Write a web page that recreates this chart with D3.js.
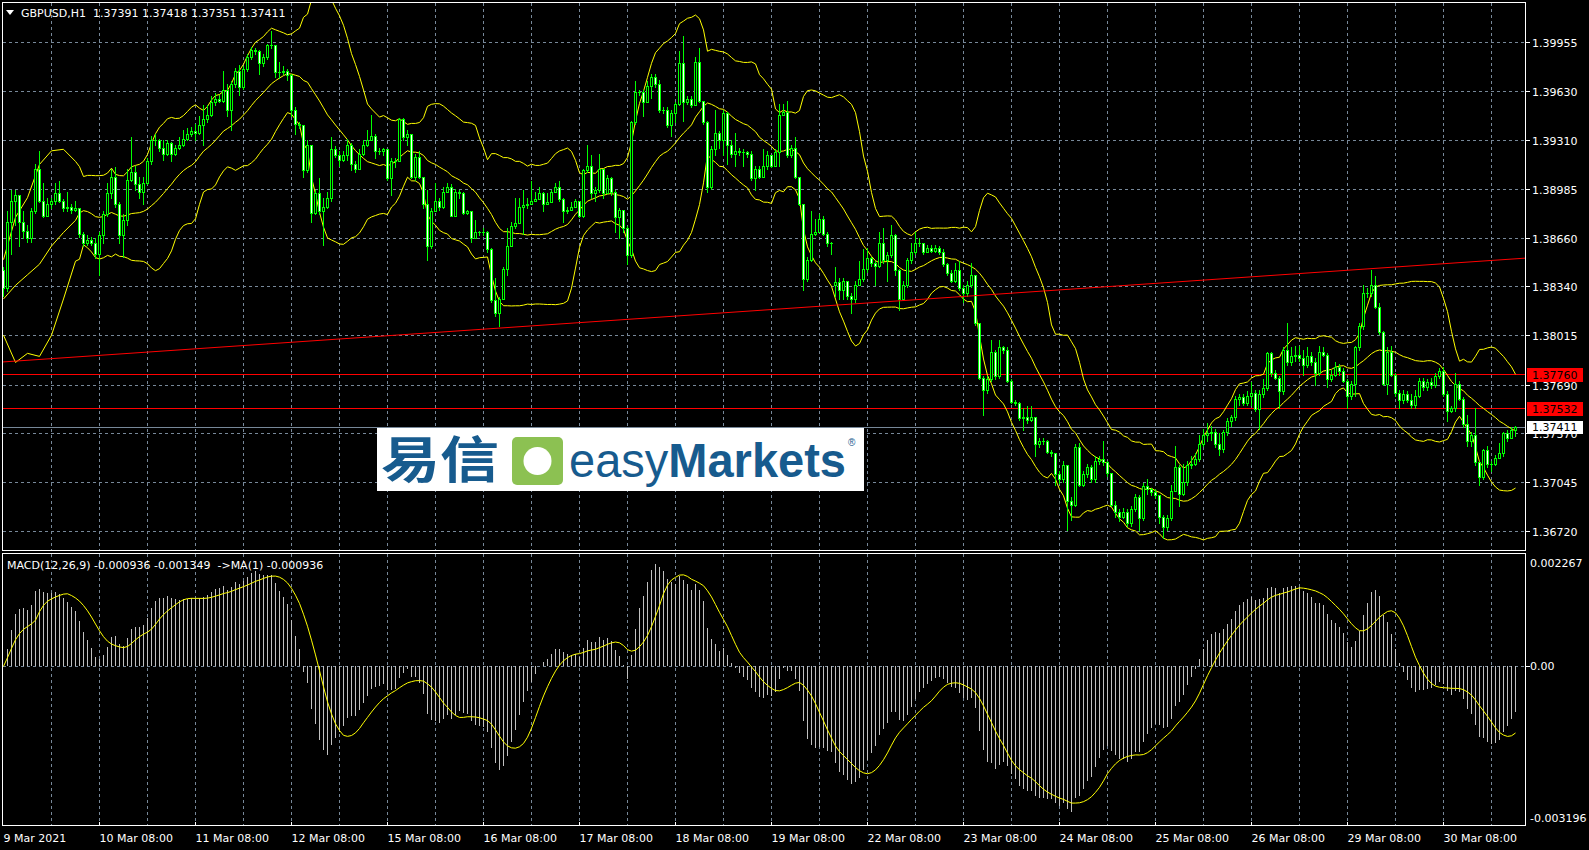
<!DOCTYPE html>
<html><head><meta charset="utf-8">
<script src="https://cdn.jsdelivr.net/npm/d3@7"></script>
<style>
html,body{margin:0;padding:0;background:#000;overflow:hidden;}
svg{display:block;}
text{font-family:"DejaVu Sans",sans-serif;font-size:11px;fill:#fff;white-space:pre;}
</style></head><body>
<svg id="chart" width="1589" height="850"></svg>
<script>
// ---------------- DATA ----------------
const symbolTitle = "GBPUSD,H1  1.37391 1.37418 1.37351 1.37411";
const macdTitle = "MACD(12,26,9) -0.000936 -0.001349  ->MA(1) -0.000936";
const firstOpen = 1.3845;
const gapOpens = {208: 1.3835};
const closes = [
1.3833,1.3877,1.3891,1.3895,1.3877,1.3871,1.3866,1.3884,1.3912,1.3891,
1.3881,1.3889,1.3891,1.3896,1.3891,1.3886,1.3887,1.3885,1.3886,1.3869,
1.3863,1.3865,1.3863,1.3856,1.3868,1.3882,1.3896,1.3907,1.3889,1.3868,
1.3878,1.3905,1.3910,1.3902,1.3897,1.3903,1.3917,1.3931,1.3931,1.3926,
1.3922,1.3929,1.3922,1.3926,1.3928,1.3932,1.3935,1.3937,1.3936,1.3941,
1.3945,1.3948,1.3956,1.3958,1.3957,1.3964,1.3951,1.3968,1.3977,1.3966,
1.3978,1.3986,1.3991,1.3990,1.3982,1.3986,1.3994,1.3994,1.3976,1.3976,
1.3977,1.3974,1.3951,1.3942,1.3941,1.3911,1.3928,1.3883,1.3896,1.3884,
1.3887,1.3893,1.3925,1.3921,1.3918,1.3921,1.3928,1.3915,1.3912,1.3922,
1.3928,1.3931,1.3934,1.3924,1.3924,1.3925,1.3906,1.3917,1.3917,1.3945,
1.3933,1.3935,1.3907,1.3920,1.3907,1.3889,1.3861,1.3884,1.3891,1.3887,
1.3897,1.3900,1.3881,1.3897,1.3896,1.3883,1.3884,1.3866,1.3870,1.3870,
1.3870,1.3859,1.3825,1.3817,1.3826,1.3846,1.3861,1.3874,1.3876,1.3887,
1.3888,1.3889,1.3891,1.3892,1.3896,1.3889,1.3890,1.3897,1.3900,1.3892,
1.3884,1.3885,1.3887,1.3891,1.3881,1.3911,1.3914,1.3896,1.3898,1.3912,
1.3896,1.3906,1.3897,1.3880,1.3885,1.3873,1.3855,1.3943,1.3963,1.3963,
1.3956,1.3967,1.3973,1.3968,1.3951,1.3951,1.3941,1.3949,1.3955,1.3982,
1.3956,1.3958,1.3954,1.3983,1.3957,1.3943,1.3900,1.3925,1.3936,1.3931,
1.3949,1.3928,1.3922,1.3924,1.3923,1.3923,1.3922,1.3906,1.3912,1.3907,
1.3914,1.3921,1.3914,1.3923,1.3948,1.3950,1.3921,1.3926,1.3907,1.3889,
1.3839,1.3852,1.3869,1.3870,1.3879,1.3869,1.3863,1.3863,1.3837,1.3832,
1.3838,1.3828,1.3826,1.3835,1.3839,1.3846,1.3853,1.3850,1.3848,1.3863,
1.3852,1.3855,1.3868,1.3845,1.3826,1.3835,1.3852,1.3857,1.3863,1.3863,
1.3857,1.3860,1.3858,1.3860,1.3857,1.3849,1.3843,1.3838,1.3845,1.3833,
1.3830,1.3835,1.3842,1.3810,1.3774,1.3766,1.3773,1.3791,1.3775,1.3794,
1.3792,1.3772,1.3758,1.3757,1.3747,1.3748,1.3746,1.3748,1.3730,1.3732,
1.3732,1.3725,1.3724,1.3710,1.3707,1.3716,1.3692,1.3690,1.3728,1.3703,
1.3710,1.3715,1.3707,1.3719,1.3720,1.3718,1.3711,1.3690,1.3685,1.3682,
1.3685,1.3678,1.3687,1.3695,1.3681,1.3702,1.3700,1.3698,1.3696,1.3682,
1.3675,1.3681,1.3699,1.3715,1.3697,1.3705,1.3716,1.3717,1.3720,1.3730,
1.3736,1.3737,1.3738,1.3730,1.3727,1.3738,1.3745,1.3748,1.3760,1.3761,
1.3757,1.3762,1.3764,1.3753,1.3763,1.3767,1.3790,1.3777,1.3774,1.3765,
1.3792,1.3784,1.3788,1.3789,1.3787,1.3782,1.3788,1.3784,1.3777,1.3791,
1.3789,1.3773,1.3776,1.3781,1.3778,1.3772,1.3762,1.3770,1.3794,1.3808,
1.3830,1.3830,1.3835,1.3821,1.3804,1.3770,1.3791,1.3776,1.3764,1.3759,
1.3763,1.3759,1.3756,1.3762,1.3772,1.3768,1.3771,1.3769,1.3775,1.3778,
1.3763,1.3752,1.3754,1.3770,1.3760,1.3743,1.3732,1.3736,1.3718,1.3708,
1.3726,1.3717,1.3717,1.3721,1.3724,1.3737,1.3734,1.37391,1.37411];
const highs = [
1.3847,1.3884,1.3898,1.3898,1.3895,1.3884,1.3875,1.3886,1.3915,1.3924,
1.3903,1.3893,1.3893,1.3903,1.3904,1.3892,1.3897,1.3889,1.3891,1.3886,
1.3870,1.3868,1.3867,1.3866,1.3870,1.3884,1.3903,1.3912,1.3913,1.3890,
1.3882,1.3912,1.3933,1.3914,1.3907,1.3907,1.3919,1.3934,1.3935,1.3932,
1.3931,1.3931,1.3930,1.3928,1.3933,1.3938,1.3939,1.3940,1.3942,1.3947,
1.3954,1.3954,1.3960,1.3962,1.3961,1.3977,1.3968,1.3970,1.3979,1.3981,
1.3980,1.3988,1.3993,1.3992,1.3991,1.3988,1.3995,1.4003,1.3994,1.3983,
1.3980,1.3978,1.3975,1.3953,1.3943,1.3941,1.3931,1.3928,1.3898,1.3906,
1.3893,1.3897,1.3933,1.3927,1.3924,1.3924,1.3932,1.3929,1.3917,1.3925,
1.3931,1.3938,1.3948,1.3935,1.3926,1.3926,1.3924,1.3919,1.3919,1.3946,
1.3946,1.3938,1.3934,1.3922,1.3924,1.3907,1.3898,1.3886,1.3903,1.3893,
1.3900,1.3903,1.3902,1.3899,1.3898,1.3897,1.3885,1.3884,1.3878,1.3871,
1.3873,1.3871,1.3860,1.3840,1.3827,1.3847,1.3873,1.3877,1.3893,1.3893,
1.3898,1.3893,1.3904,1.3897,1.3900,1.3897,1.3896,1.3898,1.3903,1.3904,
1.3893,1.3887,1.3890,1.3892,1.3891,1.3912,1.3928,1.3921,1.3900,1.3922,
1.3912,1.3908,1.3907,1.3898,1.3886,1.3885,1.3874,1.3944,1.3970,1.3964,
1.3964,1.3970,1.3975,1.3975,1.3971,1.3953,1.3953,1.3951,1.3956,1.3990,
1.4000,1.3960,1.3960,1.3986,1.3992,1.3957,1.3944,1.3927,1.3951,1.3937,
1.3951,1.3950,1.3931,1.3936,1.3926,1.3925,1.3924,1.3924,1.3914,1.3914,
1.3925,1.3924,1.3921,1.3925,1.3955,1.3955,1.3957,1.3928,1.3933,1.3907,
1.3889,1.3854,1.3884,1.3879,1.3882,1.3881,1.3870,1.3864,1.3847,1.3840,
1.3840,1.3838,1.3830,1.3838,1.3851,1.3859,1.3860,1.3854,1.3851,1.3870,
1.3873,1.3857,1.3875,1.3869,1.3846,1.3838,1.3853,1.3863,1.3870,1.3866,
1.3863,1.3862,1.3862,1.3862,1.3861,1.3859,1.3850,1.3845,1.3850,1.3851,
1.3835,1.3838,1.3850,1.3842,1.3810,1.3775,1.3775,1.3799,1.3792,1.3799,
1.3795,1.3794,1.3773,1.3759,1.3758,1.3754,1.3755,1.3755,1.3748,1.3734,
1.3734,1.3733,1.3726,1.3724,1.3712,1.3719,1.3716,1.3695,1.3730,1.3731,
1.3712,1.3717,1.3716,1.3722,1.3722,1.3732,1.3719,1.3711,1.3692,1.3687,
1.3688,1.3687,1.3689,1.3697,1.3696,1.3704,1.3707,1.3701,1.3700,1.3696,
1.3683,1.3683,1.3703,1.3729,1.3716,1.3717,1.3719,1.3722,1.3724,1.3736,
1.3740,1.3744,1.3742,1.3740,1.3737,1.3739,1.3747,1.3749,1.3762,1.3763,
1.3763,1.3765,1.3771,1.3766,1.3766,1.3773,1.3791,1.3791,1.3779,1.3775,
1.3794,1.3810,1.3794,1.3795,1.3795,1.3792,1.3794,1.3791,1.3787,1.3795,
1.3794,1.3790,1.3779,1.3784,1.3783,1.3780,1.3773,1.3772,1.3795,1.3810,
1.3835,1.3833,1.3845,1.3841,1.3823,1.3805,1.3794,1.3795,1.3777,1.3766,
1.3766,1.3765,1.3763,1.3766,1.3774,1.3774,1.3773,1.3774,1.3777,1.3780,
1.3781,1.3765,1.3755,1.3777,1.3772,1.3761,1.3749,1.3738,1.3754,1.3718,
1.3727,1.3729,1.3719,1.3723,1.3731,1.3738,1.3739,1.3741,1.37418];
const lows = [
1.3828,1.3831,1.3856,1.3875,1.3861,1.3866,1.3864,1.3864,1.3883,1.3890,
1.3880,1.3881,1.3886,1.3889,1.3890,1.3884,1.3884,1.3883,1.3884,1.3867,
1.3861,1.3862,1.3862,1.3853,1.3842,1.3863,1.3881,1.3893,1.3887,1.3863,
1.3854,1.3875,1.3904,1.3898,1.3893,1.3889,1.3902,1.3915,1.3928,1.3924,
1.3918,1.3921,1.3917,1.3921,1.3925,1.3927,1.3931,1.3934,1.3931,1.3935,
1.3928,1.3943,1.3947,1.3954,1.3956,1.3956,1.3947,1.3938,1.3966,1.3961,
1.3965,1.3977,1.3985,1.3988,1.3975,1.3980,1.3985,1.3992,1.3973,1.3972,
1.3975,1.3971,1.3947,1.3935,1.3939,1.3907,1.3910,1.3877,1.3882,1.3882,
1.3862,1.3886,1.3891,1.3920,1.3914,1.3917,1.3918,1.3911,1.3910,1.3912,
1.3921,1.3927,1.3931,1.3919,1.3922,1.3921,1.3905,1.3895,1.3913,1.3917,
1.3931,1.3928,1.3906,1.3905,1.3906,1.3886,1.3852,1.3860,1.3884,1.3885,
1.3886,1.3897,1.3881,1.3893,1.3893,1.3882,1.3882,1.3864,1.3866,1.3868,
1.3868,1.3857,1.3824,1.3815,1.3808,1.3826,1.3842,1.3861,1.3873,1.3876,
1.3869,1.3886,1.3889,1.3891,1.3893,1.3884,1.3889,1.3890,1.3897,1.3891,
1.3877,1.3883,1.3886,1.3889,1.3880,1.3880,1.3910,1.3893,1.3891,1.3897,
1.3893,1.3896,1.3895,1.3870,1.3866,1.3870,1.3849,1.3854,1.3942,1.3961,
1.3947,1.3956,1.3959,1.3966,1.3950,1.3949,1.3940,1.3934,1.3943,1.3954,
1.3944,1.3955,1.3953,1.3954,1.3956,1.3942,1.3897,1.3899,1.3921,1.3926,
1.3921,1.3915,1.3920,1.3914,1.3921,1.3914,1.3920,1.3905,1.3898,1.3906,
1.3907,1.3912,1.3913,1.3914,1.3914,1.3949,1.3920,1.3920,1.3906,1.3888,
1.3832,1.3838,1.3851,1.3868,1.3870,1.3868,1.3861,1.3856,1.3828,1.3826,
1.3826,1.3826,1.3817,1.3824,1.3835,1.3838,1.3844,1.3848,1.3835,1.3847,
1.3850,1.3838,1.3854,1.3842,1.3819,1.3825,1.3834,1.3850,1.3856,1.3861,
1.3856,1.3857,1.3857,1.3857,1.3856,1.3848,1.3842,1.3837,1.3837,1.3832,
1.3824,1.3828,1.3834,1.3809,1.3773,1.3749,1.3764,1.3772,1.3773,1.3774,
1.3790,1.3771,1.3757,1.3756,1.3746,1.3739,1.3744,1.3745,1.3722,1.3728,
1.3730,1.3724,1.3722,1.3703,1.3704,1.3705,1.3673,1.3680,1.3689,1.3702,
1.3702,1.3708,1.3705,1.3705,1.3717,1.3716,1.3709,1.3689,1.3682,1.3679,
1.3681,1.3676,1.3676,1.3686,1.3673,1.3680,1.3697,1.3696,1.3694,1.3678,
1.3668,1.3673,1.3680,1.3699,1.3689,1.3696,1.3703,1.3714,1.3716,1.3719,
1.3729,1.3732,1.3733,1.3728,1.3723,1.3725,1.3736,1.3742,1.3746,1.3756,
1.3756,1.3756,1.3756,1.3752,1.3740,1.3761,1.3766,1.3775,1.3773,1.3754,
1.3763,1.3782,1.3782,1.3785,1.3785,1.3776,1.3781,1.3782,1.3769,1.3776,
1.3788,1.3768,1.3772,1.3775,1.3776,1.3771,1.3754,1.3760,1.3762,1.3792,
1.3806,1.3827,1.3828,1.3820,1.3803,1.3769,1.3763,1.3775,1.3762,1.3754,
1.3757,1.3758,1.3754,1.3754,1.3761,1.3766,1.3766,1.3767,1.3768,1.3774,
1.3762,1.3745,1.3751,1.3752,1.3759,1.3741,1.3729,1.3729,1.3716,1.3703,
1.3707,1.3715,1.3712,1.3716,1.3722,1.3722,1.3732,1.3736,1.37351];
// Bollinger values read at the left edge (before a full 20-bar window exists)
const bbLeadBars  = [0, 3, 6, 9, 12, 15, 18];
const bbUpperLead = [1.3852,1.3880,1.3893,1.3915,1.3924,1.3925,1.3917];
const bbMidLead   = [1.3826,1.3835,1.3842,1.3849,1.3861,1.3870,1.3878];
const bbLowerLead = [1.3802,1.3784,1.3790,1.3788,1.3802,1.3826,1.3851];
const priceTicks = ["1.39955","1.39630","1.39310","1.38985","1.38660","1.38340","1.38015","1.37690","1.37370","1.37045","1.36720"];
const timeLabels = ["9 Mar 2021","10 Mar 08:00","11 Mar 08:00","12 Mar 08:00","15 Mar 08:00","16 Mar 08:00","17 Mar 08:00","18 Mar 08:00","19 Mar 08:00","22 Mar 08:00","23 Mar 08:00","24 Mar 08:00","25 Mar 08:00","26 Mar 08:00","29 Mar 08:00","30 Mar 08:00"];
const timeLabelBars = [0,24,48,72,96,120,144,168,192,216,240,264,288,312,336,360];
const hLines = [1.37760, 1.37532];
const currentPrice = 1.37411;
const trendBars = [-0.25, 380.5];
const trendPrices = [1.37843, 1.38530];
const macdTicks = ["0.002267","0.00","-0.003196"];
const macdTickValues = [0.002267, 0, -0.003196];

// ---------------- LAYOUT ----------------
const W = 1589, H = 850;
const X0 = 2.5, X1 = 1525.5, MT = 2.5, MB = 550.5, ST = 553.5, SB = 825.5;
const svg = d3.select("#chart");
svg.append("rect").attr("width", W).attr("height", H).attr("fill", "#000");

const x = d3.scaleLinear().domain([0, 378]).range([3.5, 1515.5]);
const y = d3.scaleLinear().domain([1.36599, 1.40218]).range([550, 3]);
const ym = d3.scaleLinear().domain([-0.003196, 0.002267]).range([SB, ST]);
const px = v => Math.round(v - 0.5) + 0.5;

// clip paths
const defs = svg.append("defs");
defs.append("clipPath").attr("id","cMain").append("rect").attr("x",X0).attr("y",MT).attr("width",X1-X0).attr("height",MB-MT);
defs.append("clipPath").attr("id","cSub").append("rect").attr("x",X0).attr("y",ST).attr("width",X1-X0).attr("height",SB-ST);

// ---------------- GRID ----------------
const grid = svg.append("g").attr("stroke","#778899").attr("stroke-width",1)
  .attr("stroke-dasharray","3,3").attr("shape-rendering","crispEdges");
d3.range(12, 379, 12).forEach(b => {
  grid.append("line").attr("x1", x(b)).attr("x2", x(b)).attr("y1", MT).attr("y2", MB);
  grid.append("line").attr("x1", x(b)).attr("x2", x(b)).attr("y1", ST).attr("y2", SB);
});
priceTicks.forEach(t => {
  const yy = px(y(+t));
  grid.append("line").attr("x1", X0).attr("x2", X1).attr("y1", yy).attr("y2", yy);
});
grid.append("line").attr("x1", X0).attr("x2", X1).attr("y1", px(ym(0))).attr("y2", px(ym(0)));

// ---------------- INDICATORS ----------------
const opens = closes.map((c, i) => i === 0 ? firstOpen : (gapOpens[i] !== undefined ? gapOpens[i] : closes[i - 1]));

// Bollinger Bands (20, 2)
const bbComputed = [];
for (let i = 19; i < closes.length; i++) {
  const w = closes.slice(i - 19, i + 1);
  const m = d3.mean(w);
  const sd = Math.sqrt(d3.mean(w, v => (v - m) * (v - m)));
  bbComputed.push({ i, u: m + 2 * sd, m, l: m - 2 * sd });
}
const bbLead = bbLeadBars.map((b, k) => ({ i: b, u: bbUpperLead[k], m: bbMidLead[k], l: bbLowerLead[k] }));
const bb = bbLead.concat(bbComputed);

// MACD (12, 26, 9)
function ema(arr, n) { const k = 2 / (n + 1); let e = arr[0]; return arr.map(v => (e = v * k + e * (1 - k))); }
const e12 = ema(closes, 12), e26 = ema(closes, 26);
const macd = closes.map((c, i) => e12[i] - e26[i]);
const signal = macd.map((v, i) => d3.mean(macd.slice(Math.max(0, i - 8), i + 1)));

// ---------------- MAIN PANEL ----------------
const main = svg.append("g").attr("clip-path", "url(#cMain)");

hLines.forEach(p => {
  main.append("line").attr("x1", X0).attr("x2", X1).attr("y1", px(y(p))).attr("y2", px(y(p)))
    .attr("stroke", "#ff0000").attr("stroke-width", 1).attr("shape-rendering","crispEdges");
});
main.append("line").attr("x1", X0).attr("x2", X1).attr("y1", px(y(currentPrice))).attr("y2", px(y(currentPrice)))
  .attr("stroke", "#778899").attr("stroke-width", 1).attr("shape-rendering","crispEdges");

["u", "m", "l"].forEach(k => {
  main.append("path").datum(bb)
    .attr("d", d3.line().x(d => x(d.i)).y(d => y(d[k])))
    .attr("fill", "none").attr("stroke", "#ffff00").attr("stroke-width", 1);
});

const cg = main.append("g").attr("shape-rendering", "crispEdges");
closes.forEach((c, i) => {
  const o = opens[i];
  const hi = Math.max(highs[i], o, c), lo = Math.min(lows[i], o, c);
  const cx = x(i);
  cg.append("line").attr("x1", cx).attr("x2", cx).attr("y1", Math.round(y(hi))).attr("y2", Math.round(y(lo)) + 1)
    .attr("stroke", "#00ff00");
  const t = Math.round(y(Math.max(o, c))), bt = Math.round(y(Math.min(o, c)));
  if (bt - t < 1) {
    cg.append("line").attr("x1", cx - 1.5).attr("x2", cx + 1.5).attr("y1", t + 0.5).attr("y2", t + 0.5).attr("stroke", "#00ff00");
  } else {
    cg.append("rect").attr("x", cx - 1).attr("y", t + 0.5).attr("width", 2).attr("height", bt - t)
      .attr("fill", c >= o ? "#000000" : "#ffffff").attr("stroke", "#00ff00").attr("stroke-width", 1);
  }
});

main.append("line")
  .attr("x1", x(trendBars[0])).attr("y1", y(trendPrices[0]))
  .attr("x2", x(trendBars[1])).attr("y2", y(trendPrices[1]))
  .attr("stroke", "#ff0000").attr("stroke-width", 1);

// ---------------- MACD PANEL ----------------
const sub = svg.append("g").attr("clip-path", "url(#cSub)");
const hg = sub.append("g").attr("shape-rendering", "crispEdges");
macd.forEach((v, i) => {
  hg.append("line").attr("x1", x(i)).attr("x2", x(i)).attr("y1", ym(0)).attr("y2", ym(v))
    .attr("stroke", "#c0c0c0").attr("stroke-width", 1);
});
sub.append("path").datum(signal)
  .attr("d", d3.line().x((d, i) => x(i)).y(d => ym(d)))
  .attr("fill", "none").attr("stroke", "#ffff00").attr("stroke-width", 1);

// ---------------- FRAMES & AXES ----------------
const fr = svg.append("g").attr("fill", "none").attr("stroke", "#ffffff").attr("stroke-width", 1).attr("shape-rendering","crispEdges");
fr.append("rect").attr("x", X0).attr("y", MT).attr("width", X1 - X0).attr("height", MB - MT);
fr.append("rect").attr("x", X0).attr("y", ST).attr("width", X1 - X0).attr("height", SB - ST);

const ax = svg.append("g");
priceTicks.forEach(t => {
  const yy = px(y(+t));
  ax.append("line").attr("x1", X1).attr("x2", X1 + 4).attr("y1", yy).attr("y2", yy).attr("stroke", "#fff").attr("shape-rendering","crispEdges");
  ax.append("text").attr("x", 1532).attr("y", yy + 4).text(t);
});
macdTicks.forEach((t, k) => {
  const v = macdTickValues[k];
  let yy = ym(v);
  if (k === 0) yy = ST + 9.5;
  if (k === 2) yy = SB - 7.5;
  ax.append("text").attr("x", 1530).attr("y", yy + 4).text(t);
});
ax.append("line").attr("x1", X1).attr("x2", X1 + 4).attr("y1", px(ym(0))).attr("y2", px(ym(0))).attr("stroke", "#fff").attr("shape-rendering","crispEdges");

hLines.forEach(p => {
  const yy = y(p);
  ax.append("rect").attr("x", 1527).attr("y", Math.round(yy) - 7).attr("width", 56).attr("height", 14).attr("fill", "#ff0000");
  ax.append("text").attr("x", 1532).attr("y", Math.round(yy) + 4).attr("style", "fill:#000").text(p.toFixed(5));
});
{
  const yy = y(currentPrice);
  ax.append("rect").attr("x", 1527).attr("y", Math.round(yy) - 6).attr("width", 56).attr("height", 13).attr("fill", "#ffffff");
  ax.append("text").attr("x", 1532).attr("y", Math.round(yy) + 4).attr("style", "fill:#000").text(currentPrice.toFixed(5));
}

timeLabelBars.forEach((b, k) => {
  const xx = b === 0 ? X0 : x(b);
  ax.append("line").attr("x1", xx).attr("x2", xx).attr("y1", SB - 4).attr("y2", SB).attr("stroke", "#fff").attr("shape-rendering","crispEdges");
  ax.append("text").attr("x", xx + (b === 0 ? 1 : 0)).attr("y", 842).text(timeLabels[k]);
});

svg.append("path").attr("d", "M6,10 L14,10 L10,15 Z").attr("fill", "#fff");
svg.append("text").attr("x", 21).attr("y", 16.5).text(symbolTitle);
svg.append("text").attr("x", 7).attr("y", 568.5).text(macdTitle);

// ---------------- LOGO ----------------
const logo = svg.append("g");
logo.append("rect").attr("x", 377).attr("y", 428).attr("width", 487).attr("height", 63).attr("fill", "#ffffff");
logo.append("text").attr("x", 381).attr("y", 478)
  .attr("style", "font-family:'Noto Sans CJK SC',sans-serif;font-size:50px;font-weight:700;fill:#175b8e")
  .attr("textLength", 118).attr("lengthAdjust", "spacingAndGlyphs").text("易信");
logo.append("rect").attr("x", 512).attr("y", 437).attr("width", 51).attr("height", 48).attr("rx", 5).attr("fill", "#8cc152");
logo.append("circle").attr("cx", 537.5).attr("cy", 461).attr("r", 14).attr("fill", "#ffffff");
const em = logo.append("text").attr("x", 569).attr("y", 477)
  .attr("style", "font-family:'Liberation Sans',Arial,sans-serif;font-size:48px;fill:#175b8e")
  .attr("textLength", 277).attr("lengthAdjust", "spacingAndGlyphs");
em.append("tspan").text("easy");
em.append("tspan").attr("style", "font-weight:700").text("Markets");
logo.append("text").attr("x", 848).attr("y", 446)
  .attr("style", "font-family:'Liberation Sans',Arial,sans-serif;font-size:10px;fill:#175b8e").text("®");
</script>
</body></html>
